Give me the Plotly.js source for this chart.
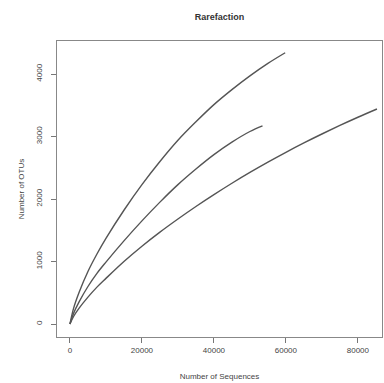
<!DOCTYPE html>
<html>
<head>
<meta charset="utf-8">
<script src="https://cdn.plot.ly/plotly-3.0.1.min.js"></script>
<style>html,body{margin:0;padding:0;background:#fff;}#chart{width:384px;height:383px;}</style>
</head>
<body>
<div id="chart"></div>
<script>
// Sample 1 (top curve)
var seq1 = [0, 1000, 2500, 5000, 7500, 10000, 15000, 20000, 25000, 30000, 35000, 40000, 45000, 50000, 55000, 59800];
var otu1 = [0, 250, 500, 840, 1120, 1370, 1820, 2230, 2600, 2940, 3235, 3510, 3750, 3970, 4170, 4340];
// Sample 2 (middle curve)
var seq2 = [0, 1000, 2500, 5000, 7500, 10000, 15000, 20000, 25000, 30000, 35000, 40000, 45000, 50000, 53500];
var otu2 = [0, 170, 350, 600, 810, 990, 1330, 1650, 1950, 2230, 2480, 2710, 2910, 3080, 3170];
// Sample 3 (bottom curve)
var seq3 = [0, 1000, 2500, 5000, 7500, 10000, 15000, 20000, 25000, 30000, 35000, 40000, 45000, 50000, 55000, 60000, 65000, 70000, 75000, 80000, 85300];
var otu3 = [0, 120, 250, 430, 590, 730, 1000, 1245, 1470, 1680, 1880, 2070, 2252, 2425, 2590, 2747, 2897, 3040, 3177, 3308, 3440];

var xTicks = [0, 20000, 40000, 60000, 80000];
var yTicks = [0, 1000, 2000, 3000, 4000];

var lineStyle = {color: '#555555', width: 1.4, shape: 'spline'};
var traces = [
  {x: seq1, y: otu1, mode: 'lines', line: lineStyle, hoverinfo: 'skip'},
  {x: seq2, y: otu2, mode: 'lines', line: lineStyle, hoverinfo: 'skip'},
  {x: seq3, y: otu3, mode: 'lines', line: lineStyle, hoverinfo: 'skip'}
];

var axisFont = {family: 'Liberation Sans, Arial, sans-serif', size: 8, color: '#444'};
var layout = {
  width: 384, height: 383,
  margin: {l: 57, r: 2, t: 41, b: 46},
  paper_bgcolor: '#fff', plot_bgcolor: '#fff',
  showlegend: false,
  font: axisFont,
  title: {text: '<b>Rarefaction</b>', x: 0.5715, xanchor: 'center', y: 0.955, yanchor: 'middle',
          font: {family: 'Liberation Sans, Arial, sans-serif', size: 9, color: '#333'}},
  xaxis: {
    range: [-3600, 86700], tickvals: xTicks, ticktext: xTicks.map(String),
    ticks: 'outside', ticklen: 5, tickcolor: '#777', tickwidth: 1,
    showline: true, mirror: true, linecolor: '#888', linewidth: 1,
    showgrid: false, zeroline: false, tickfont: axisFont,
    title: {text: 'Number of Sequences', standoff: 19, font: axisFont}
  },
  yaxis: {
    range: [-208, 4528], tickvals: yTicks, ticktext: yTicks.map(String),
    ticks: 'outside', ticklen: 5, tickcolor: '#777', tickwidth: 1, tickangle: -90,
    ticklabelstandoff: 6,
    showline: true, mirror: true, linecolor: '#888', linewidth: 1,
    showgrid: false, zeroline: false, tickfont: axisFont,
    title: {text: 'Number of OTUs', standoff: 8, font: axisFont}
  }
};
Plotly.newPlot('chart', traces, layout, {staticPlot: true, displayModeBar: false});
</script>
</body>
</html>
